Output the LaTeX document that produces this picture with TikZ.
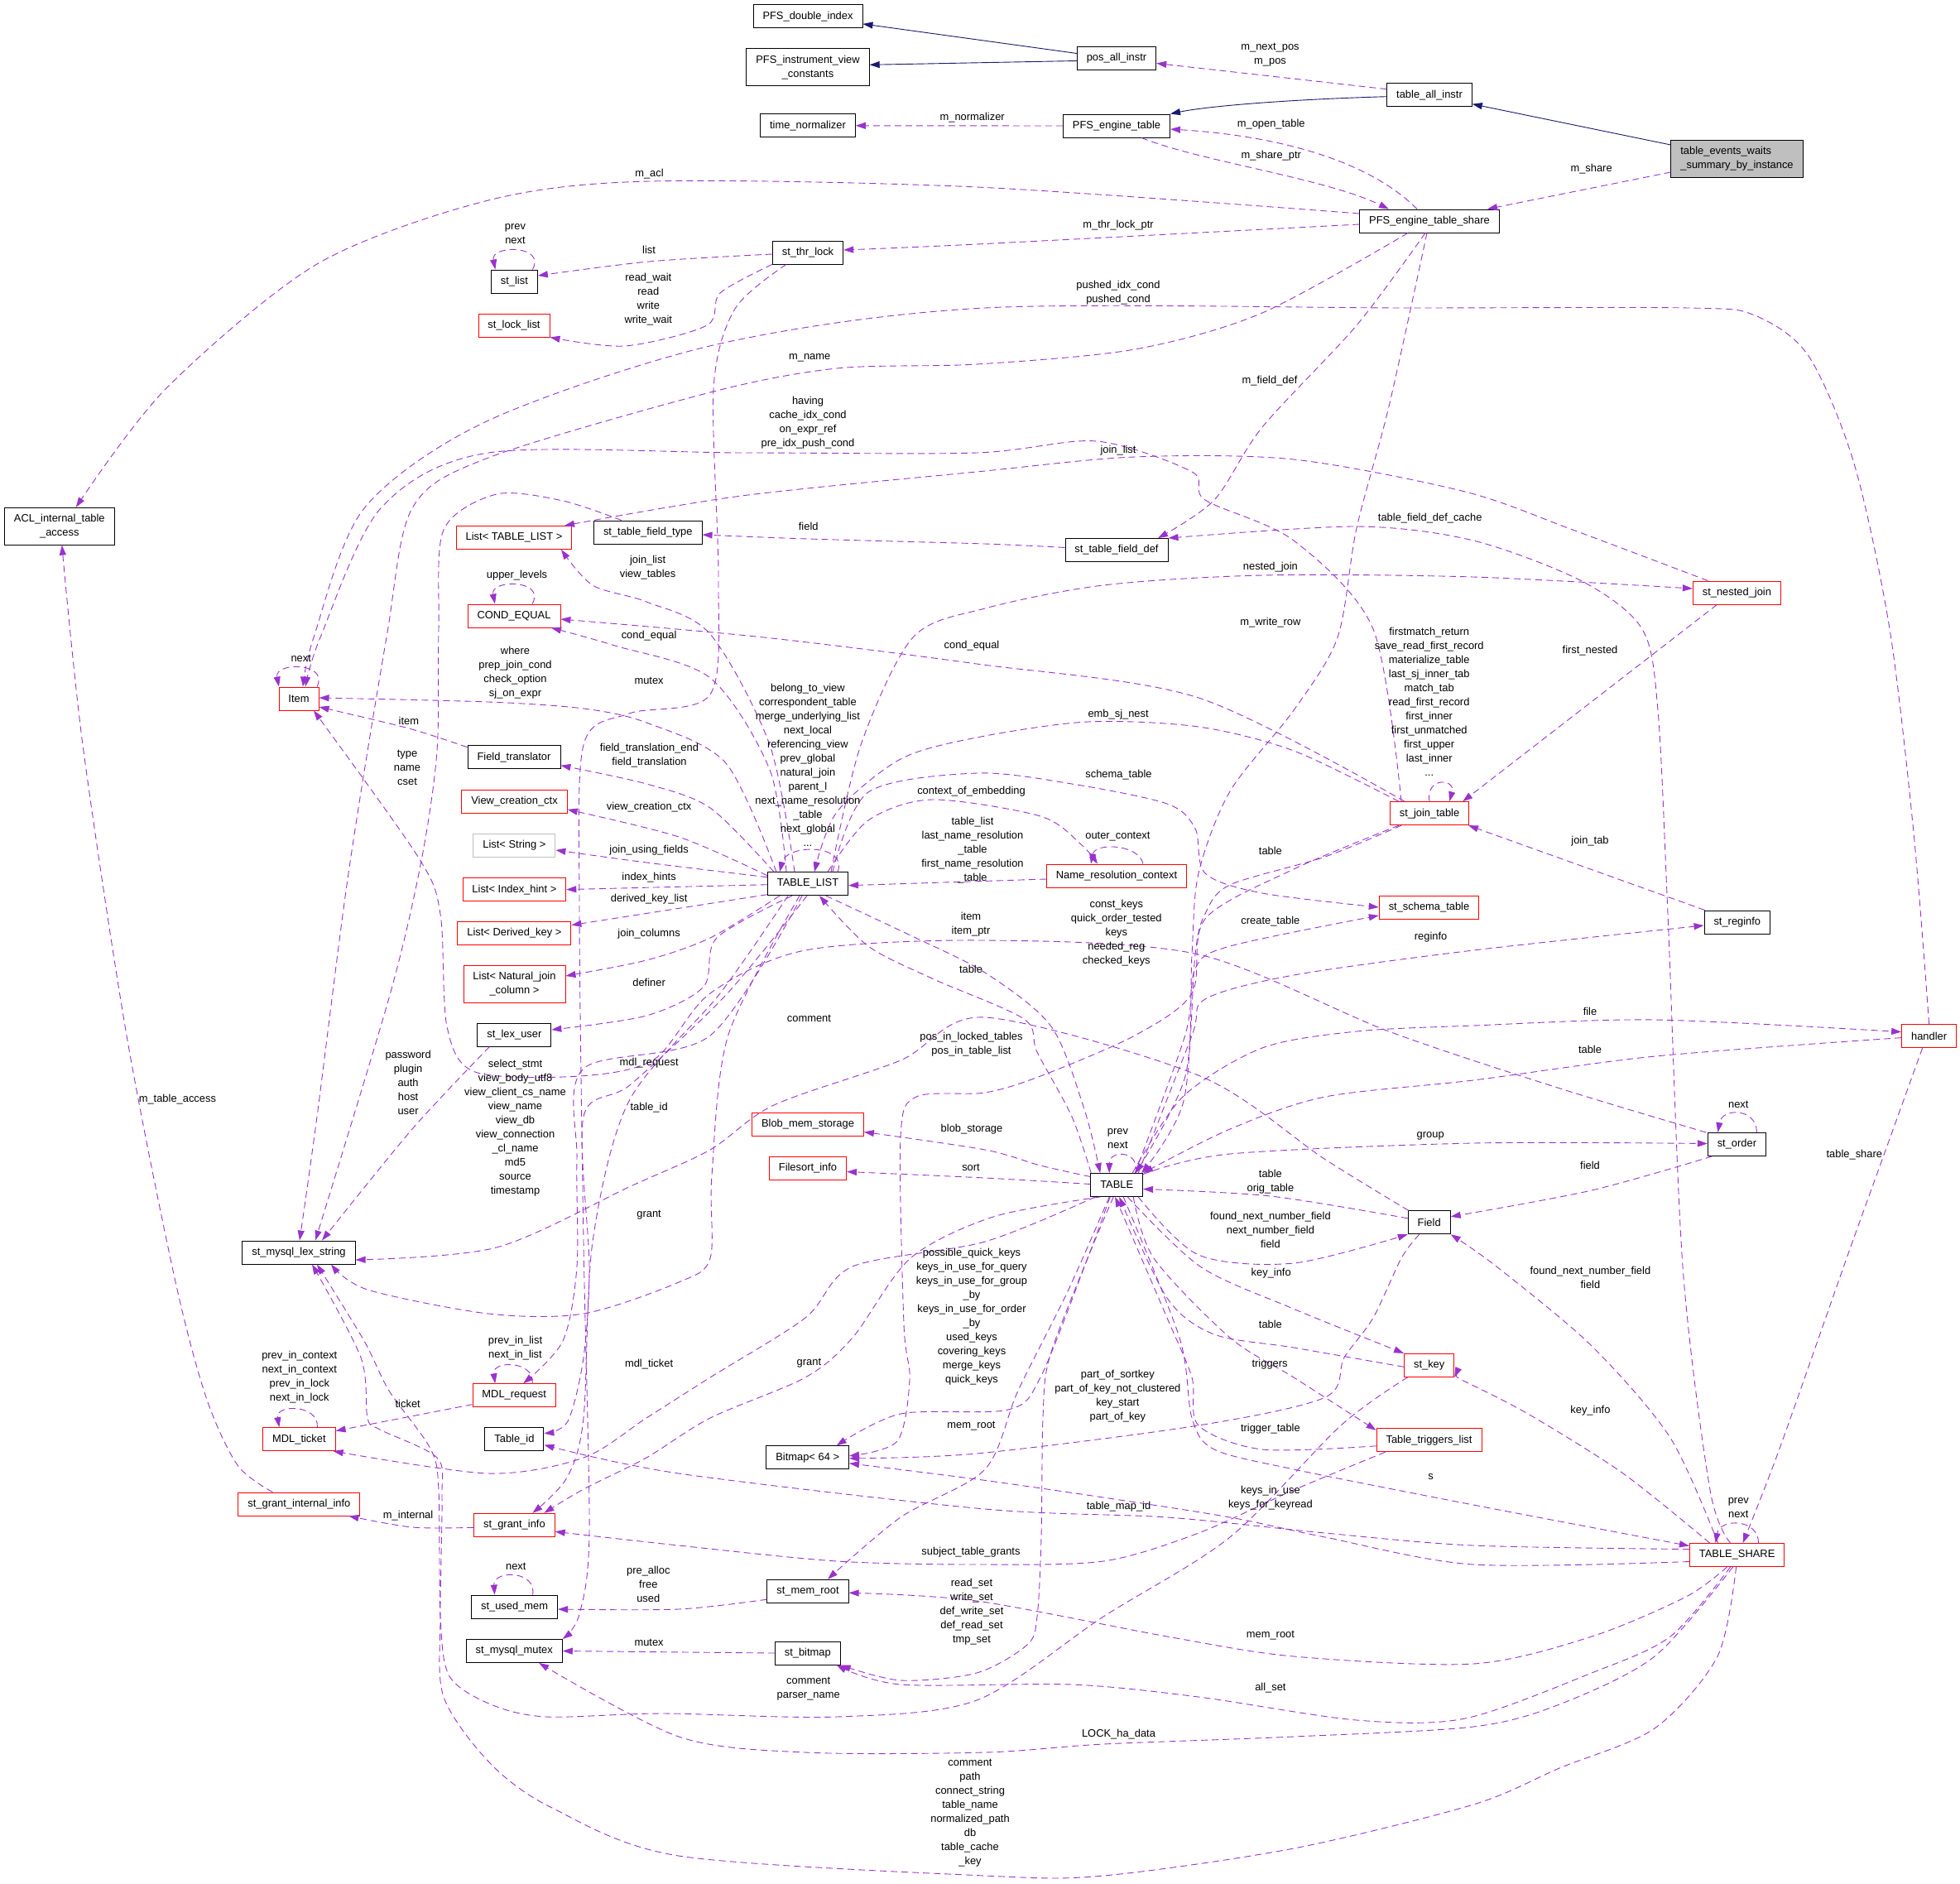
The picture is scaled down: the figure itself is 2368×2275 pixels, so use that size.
\documentclass[tikz,border=0pt]{standalone}
\usepackage{fontspec}
\setmainfont{Liberation Sans}
\usetikzlibrary{arrows.meta, calc}
\definecolor{usecol}{HTML}{9A32CD}
\definecolor{inhcol}{HTML}{191970}
\definecolor{grayb}{HTML}{BFBFBF}
\newcommand\dxfont{\fontsize{12.9}{17}\selectfont}
\tikzset{
  cls/.style={draw=black, fill=white, line width=0.9pt, minimum height=28pt,
    inner xsep=11.5pt, inner ysep=8pt, align=center, font=\dxfont},
  trunc/.style={cls, draw=red},
  extcls/.style={cls, draw=grayb},
  mainnode/.style={cls, fill=grayb, align=left},
  elab/.style={align=center, inner sep=0pt, font=\dxfont},
  usedge/.style={draw=usecol, line width=0.9pt, dash pattern=on 8pt off 5pt,
    -{Triangle[length=12pt,width=8pt]}},
  inhedge/.style={draw=inhcol, line width=0.9pt, -{Triangle[length=12pt,width=8pt]}},
}
\begin{document}
\begin{tikzpicture}[x=1pt, y=-1pt]
% Canvas
\fill[white] (0,0) rectangle (2368,2275);
\useasboundingbox (0,0) rectangle (2368,2275);

% Classes
\node[cls] (pfsdbl) at (976,19.9) {PFS\_double\_index};
\node[cls] (pfsiv) at (976,81.3) {PFS\_instrument\_view\\\_constants};
\node[cls] (timenorm) at (976,151.8) {time\_normalizer};
\node[cls] (posall) at (1349,70.5) {pos\_all\_instr};
\node[cls] (taball) at (1727,114.7) {table\_all\_instr};
\node[cls] (pfstab) at (1349,152) {PFS\_engine\_table};
\node[cls] (pfsshare) at (1727,267) {PFS\_engine\_table\_share};
\node[mainnode] (tews) at (2098.5,192) {table\_events\_waits\\\_summary\_by\_instance};
\node[cls] (stlist) at (621.4,340) {st\_list};
\node[trunc] (stlocklist) at (621,393) {st\_lock\_list};
\node[cls] (stthr) at (976,305) {st\_thr\_lock};
\node[cls] (acl) at (71.8,635.7) {ACL\_internal\_table\\\_access};
\node[trunc] (item) at (361,844) {Item};
\node[trunc] (listtl) at (621,649.4) {List< TABLE\_LIST >};
\node[cls] (sttft) at (782.8,643) {st\_table\_field\_type};
\node[trunc] (condeq) at (621,744) {COND\_EQUAL};
\node[cls] (sttfd) at (1349,664.5) {st\_table\_field\_def};
\node[trunc] (stnj) at (2098.4,716) {st\_nested\_join};
\node[cls] (ftrans) at (621,914.7) {Field\_translator};
\node[trunc] (vcctx) at (621.5,968) {View\_creation\_ctx};
\node[extcls] (liststr) at (621.4,1021) {List< String >};
\node[trunc] (listih) at (621.4,1074.6) {List< Index\_hint >};
\node[trunc] (listdk) at (621.4,1127.6) {List< Derived\_key >};
\node[trunc] (listnjc) at (621.5,1189) {List< Natural\_join\\\_column >};
\node[cls] (stlex) at (621.4,1250) {st\_lex\_user};
\node[cls] (tlist) at (976,1067.7) {TABLE\_LIST};
\node[trunc] (blob) at (976,1358.5) {Blob\_mem\_storage};
\node[trunc] (fsort) at (976,1411.5) {Filesort\_info};
\node[cls] (lexstr) at (361,1513) {st\_mysql\_lex\_string};
\node[trunc] (nrc) at (1349,1058) {Name\_resolution\_context};
\node[trunc] (stjt) at (1727,982.7) {st\_join\_table};
\node[trunc] (stschema) at (1726.5,1096) {st\_schema\_table};
\node[cls] (streg) at (2098.8,1114) {st\_reginfo};
\node[trunc] (handler) at (2330.6,1251.6) {handler};
\node[cls] (storder) at (2098.4,1382.5) {st\_order};
\node[cls] (table) at (1349.2,1431.5) {TABLE};
\node[cls] (field) at (1726.7,1476.8) {Field};
\node[trunc] (mdlticket) at (361.4,1738.6) {MDL\_ticket};
\node[trunc] (stgii) at (361.4,1817) {st\_grant\_internal\_info};
\node[trunc] (mdlreq) at (621.2,1685.7) {MDL\_request};
\node[cls] (tableid) at (621.4,1738.6) {Table\_id};
\node[trunc] (stgrant) at (621.4,1842.3) {st\_grant\_info};
\node[cls] (stused) at (621.6,1941) {st\_used\_mem};
\node[cls] (stmutex) at (621.2,1994.5) {st\_mysql\_mutex};
\node[cls] (bitmap) at (975.7,1760.8) {Bitmap< 64 >};
\node[cls] (memroot) at (976,1922.2) {st\_mem\_root};
\node[cls] (stbitmap) at (975.8,1997) {st\_bitmap};
\node[trunc] (stkey) at (1726.7,1649.3) {st\_key};
\node[trunc] (ttl) at (1726.5,1739.8) {Table\_triggers\_list};
\node[trunc] (tshare) at (2098.6,1878.5) {TABLE\_SHARE};

% Inheritance
\draw[inhedge] ([yshift=6pt]posall.west) -- ([yshift=-9pt]pfsdbl.east);
\draw[inhedge] ([yshift=-3pt]posall.west) -- ([yshift=3pt]pfsiv.east);
\draw[inhedge] ([yshift=-2pt]taball.west) .. controls (1560,120) and (1460,128) .. (pfstab.north east);
\draw[inhedge] ([yshift=17pt]tews.west) -- ([yshift=-11pt]taball.east);

% Usage, top part
\draw[usedge] ([yshift=7pt]taball.west) -- ([yshift=-6pt]posall.east);
\draw[usedge] (pfstab.west) -- (timenorm.east);
\draw[usedge] ([xshift=-15pt]pfsshare.north) .. controls (1660,200) and (1560,165) .. ([yshift=-4pt]pfstab.east);
\draw[usedge] ([xshift=30pt]pfstab.south) .. controls (1450,195) and (1600,215) .. ([xshift=-49pt]pfsshare.north);
\draw[usedge] ([yshift=-16pt]tews.west) -- ([xshift=70pt]pfsshare.north);
\draw[usedge] plot[smooth] coordinates {([yshift=9pt]pfsshare.west) (1180,226) (784,219) (590,242) (383,319) (200,470) ([xshift=20pt]acl.north)};
\draw[usedge] plot[smooth] coordinates {([yshift=-4pt]pfsshare.west) (1180,295) ([yshift=3pt]stthr.east)};
\draw[usedge] plot[smooth] coordinates {([yshift=-2pt]stthr.west) (784,316) ([yshift=7pt]stlist.east)};
\draw[usedge] ([xshift=22pt]stlist.north) .. controls +(17,-30) and +(-6,-30) .. ([xshift=-23pt]stlist.north);
\draw[usedge] plot[smooth] coordinates {(stthr.south west) (870,354) (854,393) (755,418) (stlocklist.south east)};
\draw[usedge] plot[smooth] coordinates {(handler.north) (2312,1006) (2283,760) (2240,560) (2185,430) (2120,381) (2040,372) (1700,372) (1190,372) (866,416) (590,508) (440,614) (379,770) ([xshift=5pt]item.north)};
\draw[usedge] plot[smooth] coordinates {([xshift=-34pt]stjt.north) (1659,760) (1563,653) (1456,604) (1440,570) (1325,533) (1180,547) (900,547) (590,547) (460,614) (387,770) ([xshift=8pt]item.north)};
\draw[usedge] plot[smooth] coordinates {([xshift=-26pt]pfsshare.south) (1525,378) (1371,422) (1180,440) (1011,445) (858,474) (590,553) (498,614) (467,770) (421,1055) (383,1349) ([xshift=1pt]lexstr.north)};
\draw[usedge] plot[smooth] coordinates {([xshift=-32pt]sttft.north) (680,605) (600,597) (536,640) (530,760) (528,907) (509,1040) (471,1202) ([xshift=20pt]lexstr.north)};
\draw[usedge] plot[smooth] coordinates {([xshift=-35pt]stnj.north) (1900,640) (1770,594) (1563,555) (1371,552) (1180,570) (896,599) ([xshift=61pt]listtl.north)};
\draw[usedge] plot[smooth] coordinates {([xshift=-5pt]pfsshare.south) (1639,393) (1525,516) (1467,604) ([xshift=50pt]sttfd.north)};
\draw[usedge] plot[smooth] coordinates {([xshift=-3pt]pfsshare.south) (1678,491) (1639,638) (1616,770) (1563,858) (1486,956) (1448,1055) (1440,1153) (1432,1300) ([xshift=23pt]table.north)};
\draw[usedge] plot[smooth] coordinates {([xshift=-8pt]tshare.north) (2066,1800) (2033,1530) (2015,1104) (2003,858) (1984,760) (1911,702) (1780,653) (1639,636) (sttfd.north east)};
\draw[usedge] plot[smooth] coordinates {([yshift=3pt]sttfd.west) (1190,657) (976,651) ([yshift=-3pt]sttft.east)};
\draw[usedge] plot[smooth] coordinates {([xshift=-26pt]stthr.south) (888,373) (862,470) (868,700) (858,839) (760,862) (705,900) (700,1100) (705,1500) (712,1850) (700,1950) (stmutex.north east)};

% Usage, around TABLE_LIST
\draw[usedge] plot[smooth] coordinates {([xshift=-16pt]tlist.north) (930,900) (858,766) (781,727) (716,707) ([xshift=57pt]listtl.south)};
\draw[usedge] plot[smooth] coordinates {([xshift=-26pt]tlist.north) (930,930) (858,819) (743,780) ([xshift=45pt]condeq.south)};
\draw[usedge] plot[smooth] coordinates {([xshift=-30pt]stjt.north) (1448,843) (1180,802) (923,770) ([yshift=-4pt]condeq.east)};
\draw[usedge] ([xshift=22pt]condeq.north) .. controls +(17,-30) and +(-6,-30) .. ([xshift=-23pt]condeq.north);
\draw[usedge] ([xshift=22pt]item.north) .. controls +(15,-30) and +(-6,-30) .. ([xshift=-24pt]item.north);
\draw[usedge] plot[smooth] coordinates {([xshift=-38pt]tlist.north) (877,922) (781,873) (705,856) (590,848) ([yshift=1pt]item.east)};
\draw[usedge] plot[smooth] coordinates {([yshift=12pt]ftrans.west) (494,880) ([yshift=-10pt]item.east)};
\draw[usedge] plot[smooth] coordinates {([xshift=-41pt]tlist.north) (858,976) (781,947) ([yshift=-10pt]ftrans.east)};
\draw[usedge] plot[smooth] coordinates {([yshift=10pt]tlist.west) (820,1011) ([yshift=-10pt]vcctx.east)};
\draw[usedge] plot[smooth] coordinates {([yshift=8pt]tlist.west) (781,1042) ([yshift=-6pt]liststr.east)};
\draw[usedge] ([yshift=-1pt]tlist.west) -- (listih.east);
\draw[usedge] ([yshift=-13pt]tlist.west) -- ([yshift=10pt]listdk.east);
\draw[usedge] plot[smooth] coordinates {([xshift=-34pt]tlist.south) (858,1133) (781,1160) ([yshift=10pt]listnjc.east)};
\draw[usedge] plot[smooth] coordinates {([xshift=-19pt]tlist.south) (866,1133) (850,1192) (781,1227) ([yshift=6pt]stlex.east)};
\draw[usedge] plot[smooth] coordinates {([xshift=-30pt]stlex.south) (498,1364) ([xshift=28pt]lexstr.north)};
\draw[usedge] plot[smooth] coordinates {([xshift=-10pt]tlist.south) (880,1250) (860,1420) (858,1520) (820,1549) (705,1587) (590,1587) (444,1558) ([xshift=39pt]lexstr.south)};
\draw[usedge] plot[smooth] coordinates {([xshift=-25pt]field.north) (1600,1400) (1450,1300) (1190,1229) (1088,1281) (935,1335) (858,1389) (762,1433) (600,1507) ([yshift=-9pt]lexstr.east)};
\draw[usedge] plot[smooth] coordinates {([xshift=-7pt]tlist.south) (858,1251) (705,1291) (697,1400) (697,1530) (680,1620) ([xshift=11pt]mdlreq.north)};
\draw[usedge] plot[smooth] coordinates {([xshift=-1pt]tlist.south) (877,1202) (762,1310) (705,1349) (712,1530) (705,1640) (686,1717) ([yshift=7pt]tableid.east)};
\draw[usedge] plot[smooth] coordinates {([xshift=-24pt]tlist.south) (870,1200) (760,1330) (716,1500) (705,1713) (685,1785) ([xshift=22pt]stgrant.north)};
\draw[usedge] ([xshift=36pt]tlist.north) .. controls +(13,-34) and +(8,-34) .. ([xshift=-34pt]tlist.north);
\draw[usedge] ([yshift=-4pt]nrc.west) -- ([yshift=-2pt]tlist.east);
\draw[usedge] ([xshift=32pt]nrc.north) .. controls +(-5,-24) and +(5,-26) .. ([xshift=-31pt]nrc.north);
\draw[usedge] plot[smooth] coordinates {([xshift=24pt]tlist.north) (1049,991) (1126,966) (1257,986) (1306,1020) ([xshift=-23pt]nrc.north)};
\draw[usedge] plot[smooth] coordinates {([xshift=30pt]tlist.north) (1049,957) (1180,934) (1295,947) (1410,971) (1444,1001) (1456,1055) (1525,1079) (stschema.west)};
\draw[usedge] plot[smooth] coordinates {([xshift=-37pt]stjt.north) (1563,907) (1448,878) (1314,872) (1180,891) (1088,917) (1011,981) ([xshift=8pt]tlist.north)};
\draw[usedge] plot[smooth] coordinates {([xshift=28pt]tlist.north) (1040,900) (1103,770) (1190,735) (1333,707) (1525,695) (1780,697) ([yshift=5pt]stnj.west)};

% Usage, st_join_table and TABLE
\draw[usedge] (stjt.north) .. controls +(-5,-30) and +(8,-28) .. ([xshift=24pt]stjt.north);
\draw[usedge] ([xshift=-24pt]stnj.south) -- ([xshift=-8pt]stjt.north east);
\draw[usedge] plot[smooth] coordinates {([xshift=-34pt]stjt.south) (1601,1035) (1486,1069) (1456,1104) (1444,1153) (1430,1330) ([xshift=30pt]table.north)};
\draw[usedge] ([xshift=-39pt]streg.north) -- ([xshift=47pt]stjt.south);
\draw[usedge] plot[smooth] coordinates {([xshift=26pt]table.north) (1440,1251) (1456,1207) (1563,1178) (1780,1148) ([yshift=-4pt]streg.west)};
\draw[usedge] plot[smooth] coordinates {([xshift=22pt]table.north) (1432,1250) (1444,1170) (1486,1143) ([yshift=-10pt]stschema.west)};
\draw[usedge] plot[smooth] coordinates {([xshift=-37pt]stjt.south) (1563,1050) (1456,1110) (1440,1200) (1371,1251) (1257,1300) (1190,1320) (1107,1325) (1088,1374) (1092,1600) (1099,1667) (1084,1741) ([yshift=2pt]bitmap.east)};
\draw[usedge] plot[smooth] coordinates {([xshift=-31pt]table.north) (1295,1349) (1253,1271) (1237,1231) (1126,1182) (1049,1143) ([xshift=14pt]tlist.south)};
\draw[usedge] plot[smooth] coordinates {([xshift=22pt]tlist.south) (1100,1130) (1190,1175) (1270,1240) (1310,1340) ([xshift=-20pt]table.north)};
\draw[usedge] plot[smooth] coordinates {([yshift=10pt]table.west) (1257,1408) (1190,1389) ([yshift=-9pt]blob.east)};
\draw[usedge] plot[smooth] coordinates {([yshift=1pt]table.west) (1190,1423) ([yshift=-4pt]fsort.east)};
\draw[usedge] ([xshift=23pt]table.north) .. controls +(5,-28) and +(0,-28) .. ([xshift=-9pt]table.north);
\draw[usedge] plot[smooth] coordinates {([yshift=-2pt]handler.west) (2000,1276) (1780,1305) (1601,1325) (1486,1364) (table.north east)};
\draw[usedge] plot[smooth] coordinates {([xshift=19pt]table.north) (1429,1325) (1525,1266) (1639,1246) (1780,1239) (2000,1232) ([yshift=5pt]handler.west)};
\draw[usedge] ([xshift=24pt]storder.north) .. controls +(0,-30) and +(5,-30) .. ([xshift=-23pt]storder.north);
\draw[usedge] plot[smooth] coordinates {([yshift=13pt]table.east) (1486,1394) (1780,1381) ([yshift=1pt]storder.west)};
\draw[usedge] plot[smooth] coordinates {([xshift=-30pt]storder.south) (1923,1438) ([yshift=7pt]field.east)};
\draw[usedge] plot[smooth] coordinates {([yshift=5pt]field.west) (1535,1445) ([yshift=-5pt]table.east)};
\draw[usedge] plot[smooth] coordinates {([xshift=26pt]table.south) (1448,1516) (1563,1526) (field.south west)};
\draw[usedge] plot[smooth] coordinates {([xshift=-37pt]storder.north) (1885,1315) (1678,1246) (1448,1153) (1190,1136) (973,1148) (858,1200) (790,1280) (700,1300) (574,1295) (540,1240) (532,1104) (505,1035) ([xshift=18pt]item.south)};

% Usage, TABLE_SHARE and the bottom part
\draw[usedge] plot[smooth] coordinates {([xshift=-8pt]handler.south) (2275,1398) (2231,1520) (2150,1750) ([xshift=7pt]tshare.north)};
\draw[usedge] ([xshift=26pt]tshare.north) .. controls +(0,-30) and +(5,-30) .. ([xshift=-26pt]tshare.north);
\draw[usedge] plot[smooth] coordinates {([xshift=-23pt]tshare.north) (2018,1737) (1923,1626) (1808,1530) (field.south east)};
\draw[usedge] plot[smooth] coordinates {([xshift=-33pt]tshare.north) (1961,1780) (1846,1708) (1770,1669) (stkey.south east)};
\draw[usedge] plot[smooth] coordinates {([xshift=13pt]table.south) (1450,1530) (1560,1580) (stkey.north west)};
\draw[usedge] plot[smooth] coordinates {([yshift=-2pt]stkey.west) (1563,1628) (1467,1612) (1410,1568) ([xshift=3pt]table.south)};
\draw[usedge] plot[smooth] coordinates {([xshift=20pt]table.south) (1394,1520) (1486,1616) (1563,1664) ([yshift=12pt]ttl.west)};
\draw[usedge] plot[smooth] coordinates {([yshift=-7pt]ttl.west) (1525,1751) (1448,1722) (1440,1664) (1410,1592) ([xshift=-2pt]table.south)};
\draw[usedge] plot[smooth] coordinates {([xshift=8pt]table.south) (1425,1616) (1440,1713) (1467,1751) (1563,1775) (1780,1818) ([yshift=11pt]tshare.west)};
\draw[usedge] plot[smooth] coordinates {([xshift=-9pt]table.south) (1290,1560) (1230,1680) (1190,1775) (1088,1833) ([xshift=24pt]memroot.north)};
\draw[usedge] plot[smooth] coordinates {([xshift=-12pt]tshare.south) (2037,1929) (1923,1977) (1780,2010) (1563,2001) (1410,1977) (1180,1934) ([yshift=-2pt]memroot.east)};
\draw[usedge] plot[smooth] coordinates {([yshift=-10pt]memroot.west) (820,1944) ([yshift=-3pt]stused.east)};
\draw[usedge] ([xshift=22pt]stused.north) .. controls +(5,-30) and +(-2,-30) .. ([xshift=-24pt]stused.north);
\draw[usedge] (stbitmap.west) -- (stmutex.east);
\draw[usedge] plot[smooth] coordinates {([xshift=-8pt]table.south) (1314,1520) (1257,1664) (1218,1703) (1088,1708) ([xshift=35pt]bitmap.north)};
\draw[usedge] plot[smooth] coordinates {([xshift=-12pt]field.south) (1693,1520) (1659,1592) (1624,1640) (1601,1688) (1448,1722) (1180,1756) ([yshift=-1pt]bitmap.east)};
\draw[usedge] plot[smooth] coordinates {([yshift=-8pt]tshare.west) (1780,1890) (1601,1857) (1486,1833) (1333,1809) (1180,1787) ([yshift=-7pt]bitmap.east)};
\draw[usedge] plot[smooth] coordinates {([yshift=7pt]tshare.west) (1780,1867) (1601,1852) (1410,1833) (1190,1823) (820,1780) ([yshift=-7pt]tableid.east)};
\draw[usedge] plot[smooth] coordinates {([xshift=-53pt]ttl.south) (1563,1800) (1448,1852) (1333,1886) (1180,1890) (1011,1886) (820,1867) ([yshift=-8pt]stgrant.east)};
\draw[usedge] plot[smooth] coordinates {([xshift=-8pt]tshare.south) (2018,1977) (1923,2021) (1770,2076) (1639,2078) (1448,2050) (1295,2035) (1088,2035) ([xshift=-5pt]stbitmap.south east)};
\draw[usedge] plot[smooth] coordinates {([xshift=-4pt]table.south) (1314,1520) (1268,1640) (1260,1713) (1258,1857) (1253,1953) (1241,1987) (1180,2021) (1088,2030) (stbitmap.south east)};
\draw[usedge] plot[smooth] coordinates {([xshift=-5pt]tshare.south) (1999,2001) (1884,2059) (1780,2086) (1563,2098) (1333,2107) (1190,2117) (973,2117) (820,2098) ([xshift=30pt]stmutex.south)};
\draw[usedge] plot[smooth] coordinates {([xshift=-1pt]tshare.south) (2075,2001) (1999,2088) (1884,2136) (1780,2180) (1563,2233) (1333,2266) (1190,2266) (820,2242) (667,2184) (593,2131) (536,2050) (532,1953) (534,1809) (528,1761) (459,1727) (444,1713) (436,1640) ([xshift=16pt]lexstr.south)};
\draw[usedge] plot[smooth] coordinates {([xshift=-26pt]stkey.south) (1620,1722) (1486,1857) (1333,1953) (1180,2054) (1011,2074) (800,2070) (660,2074) (593,2059) (543,2025) (532,1953) (530,1800) (520,1750) (470,1680) (440,1620) ([xshift=22pt]lexstr.south)};
\draw[usedge] plot[smooth] coordinates {([xshift=-32pt]stgii.north) (287,1770) (249,1688) (211,1544) (153,1251) (100,900) ([xshift=3pt]acl.south)};
\draw[usedge] plot[smooth] coordinates {([yshift=-3pt]stgrant.west) (498,1845) ([xshift=60pt]stgii.south)};
\draw[usedge] ([yshift=-11pt]mdlreq.west) -- ([yshift=10pt]mdlticket.east);
\draw[usedge] ([xshift=22pt]mdlticket.north) .. controls +(2,-28) and +(-5,-28) .. ([xshift=-24pt]mdlticket.north);
\draw[usedge] ([xshift=22pt]mdlreq.north) .. controls +(3,-28) and +(-4,-28) .. ([xshift=-23pt]mdlreq.north);
\draw[usedge] plot[smooth] coordinates {([xshift=-26pt]table.south) (1190,1500) (1030,1530) (973,1592) (858,1664) (781,1713) (705,1761) (590,1780) ([xshift=-3pt]mdlticket.south east)};
\draw[usedge] plot[smooth] coordinates {([xshift=-20pt]table.south) (1200,1470) (1100,1520) (1030,1616) (973,1664) (858,1713) (781,1761) (705,1799) ([xshift=36pt]stgrant.north)};

% Edge labels
\node[elab] (lnextpos) at (1534.5,65.8) {m\_next\_pos\\m\_pos};
\node[elab] (lnormalizer) at (1174.7,142.4) {m\_normalizer};
\node[elab] (lopentable) at (1535.7,150.3) {m\_open\_table};
\node[elab] (lshareptr) at (1535.7,188.6) {m\_share\_ptr};
\node[elab] (lshare) at (1922.6,204.3) {m\_share};
\node[elab] (lacl) at (784.5,210.2) {m\_acl};
\node[elab] (lthrlock) at (1351.1,272.6) {m\_thr\_lock\_ptr};
\node[elab] (llist) at (784.1,302) {list};
\node[elab] (lstlistloop) at (622.5,283) {prev\\next};
\node[elab] (lwait) at (783.3,361.5) {read\_wait\\read\\write\\write\_wait};
\node[elab] (lpushed) at (1351,353.4) {pushed\_idx\_cond\\pushed\_cond};
\node[elab] (lmname) at (978.2,432.7) {m\_name};
\node[elab] (lfielddef) at (1534,459.7) {m\_field\_def};
\node[elab] (lhaving) at (976,510.5) {having\\cache\_idx\_cond\\on\_expr\_ref\\pre\_idx\_push\_cond};
\node[elab] (ljoinlist) at (1351,544.2) {join\_list};
\node[elab] (lfield) at (976.7,636) {field};
\node[elab] (lfdcache) at (1727.7,626.2) {table\_field\_def\_cache};
\node[elab] (lupper) at (624.5,695.5) {upper\_levels};
\node[elab] (lviewtables) at (782.6,685.4) {join\_list\\view\_tables};
\node[elab] (lnestedjoin) at (1534.9,684.7) {nested\_join};
\node[elab] (lwriterow) at (1534.9,752.5) {m\_write\_row};
\node[elab] (ljtloop) at (1726.7,847.4) {firstmatch\_return\\save\_read\_first\_record\\materialize\_table\\last\_sj\_inner\_tab\\match\_tab\\read\_first\_record\\first\_inner\\first\_unmatched\\first\_upper\\last\_inner\\...};
\node[elab] (lfirstnested) at (1921,786) {first\_nested};
\node[elab] (lcondeqa) at (784.1,768.4) {cond\_equal};
\node[elab] (lcondeqb) at (1174,780.6) {cond\_equal};
\node[elab] (lwhere) at (622.5,812.3) {where\\prep\_join\_cond\\check\_option\\sj\_on\_expr};
\node[elab] (lmutexa) at (784.1,822.4) {mutex};
\node[elab] (litemloop) at (363.7,795.4) {next};
\node[elab] (litem) at (493.9,870.5) {item};
\node[elab] (ltype) at (492,927.8) {type\\name\\cset};
\node[elab] (ltlloop) at (975.9,924.5) {belong\_to\_view\\correspondent\_table\\merge\_underlying\_list\\next\_local\\referencing\_view\\prev\_global\\natural\_join\\parent\_l\\next\_name\_resolution\\\_table\\next\_global\\...};
\node[elab] (lembsj) at (1351.1,862.7) {emb\_sj\_nest};
\node[elab] (lschema) at (1351.5,936.3) {schema\_table};
\node[elab] (lctxemb) at (1173.5,956.5) {context\_of\_embedding};
\node[elab] (lftrans) at (784.5,913) {field\_translation\_end\\field\_translation};
\node[elab] (lvcctx) at (784.1,974.6) {view\_creation\_ctx};
\node[elab] (louter) at (1350.4,1010.5) {outer\_context};
\node[elab] (ltablelist) at (1175,1027.2) {table\_list\\last\_name\_resolution\\\_table\\first\_name\_resolution\\\_table};
\node[elab] (ljttable) at (1534.9,1028.2) {table};
\node[elab] (ljointab) at (1921,1016.4) {join\_tab};
\node[elab] (lusing) at (784.1,1026.7) {join\_using\_fields};
\node[elab] (lhints) at (784.1,1060.1) {index\_hints};
\node[elab] (lderived) at (784.1,1086.1) {derived\_key\_list};
\node[elab] (ljoincols) at (784.1,1128.4) {join\_columns};
\node[elab] (ldefiner) at (784.1,1187.3) {definer};
\node[elab] (litemptr) at (1173,1116.4) {item\\item\_ptr};
\node[elab] (ltltable) at (1173,1170.6) {table};
\node[elab] (lconstkeys) at (1348.8,1127.6) {const\_keys\\quick\_order\_tested\\keys\\needed\_reg\\checked\_keys};
\node[elab] (lcreate) at (1534.9,1112.7) {create\_table};
\node[elab] (lreginfo) at (1728.6,1132.3) {reginfo};
\node[elab] (lfile) at (1921,1222.2) {file};
\node[elab] (lhtable) at (1921,1268.3) {table};
\node[elab] (lcomment) at (977.4,1230.5) {comment};
\node[elab] (lposin) at (1173.5,1261.7) {pos\_in\_locked\_tables\\pos\_in\_table\_list};
\node[elab] (lpassword) at (493.1,1307.7) {password\\plugin\\auth\\host\\user};
\node[elab] (lselect) at (622.5,1362.6) {select\_stmt\\view\_body\_utf8\\view\_client\_cs\_name\\view\_name\\view\_db\\view\_connection\\\_cl\_name\\md5\\source\\timestamp};
\node[elab] (lmdlreq) at (784.1,1284.6) {mdl\_request};
\node[elab] (ltableid) at (784.1,1338.1) {table\_id};
\node[elab] (lblob) at (1174,1364.6) {blob\_storage};
\node[elab] (lsort) at (1173,1410.8) {sort};
\node[elab] (ltableloop) at (1350.4,1375.4) {prev\\next};
\node[elab] (lgroup) at (1728.2,1372) {group};
\node[elab] (lorderloop) at (2100.3,1334.7) {next};
\node[elab] (lorderfield) at (1921,1408.3) {field};
\node[elab] (lorigtable) at (1534.9,1427.2) {table\\orig\_table};
\node[elab] (lnextnum) at (1534.9,1486) {found\_next\_number\_field\\next\_number\_field\\field};
\node[elab] (lgranta) at (784.1,1467.8) {grant};
\node[elab] (ltshare) at (2240.3,1394.6) {table\_share};
\node[elab] (lquick) at (1174,1590.7) {possible\_quick\_keys\\keys\_in\_use\_for\_query\\keys\_in\_use\_for\_group\\\_by\\keys\_in\_use\_for\_order\\\_by\\used\_keys\\covering\_keys\\merge\_keys\\quick\_keys};
\node[elab] (lsharefield) at (1921.4,1542.9) {found\_next\_number\_field\\field};
\node[elab] (lkeyinfoa) at (1535.7,1538.3) {key\_info};
\node[elab] (lreqloop) at (622.5,1628.1) {prev\_in\_list\\next\_in\_list};
\node[elab] (lmdlticket) at (784.1,1648) {mdl\_ticket};
\node[elab] (lgrantb) at (977.4,1646.6) {grant};
\node[elab] (lkeytable) at (1534.9,1599.4) {table};
\node[elab] (ltriggers) at (1534.1,1648.6) {triggers};
\node[elab] (lpartkey) at (1350.4,1686.7) {part\_of\_sortkey\\part\_of\_key\_not\_clustered\\key\_start\\part\_of\_key};
\node[elab] (lkeyinfob) at (1921.4,1704.4) {key\_info};
\node[elab] (lticketloop) at (361.8,1664) {prev\_in\_context\\next\_in\_context\\prev\_in\_lock\\next\_in\_lock};
\node[elab] (lticket) at (492.7,1696.2) {ticket};
\node[elab] (lmemroota) at (1173.5,1722.7) {mem\_root};
\node[elab] (ltrigtable) at (1534.9,1726.5) {trigger\_table};
\node[elab] (ls) at (1728.6,1783.8) {s};
\node[elab] (lkeysinuse) at (1534.9,1809.6) {keys\_in\_use\\keys\_for\_keyread};
\node[elab] (lmapid) at (1351.5,1820.4) {table\_map\_id};
\node[elab] (linternal) at (493.1,1831.5) {m\_internal};
\node[elab] (lsubject) at (1173,1875.3) {subject\_table\_grants};
\node[elab] (lusedloop) at (623.3,1892.2) {next};
\node[elab] (lprealloc) at (783.3,1914) {pre\_alloc\\free\\used};
\node[elab] (lreadset) at (1174,1947.3) {read\_set\\write\_set\\def\_write\_set\\def\_read\_set\\tmp\_set};
\node[elab] (lmemrootb) at (1534.9,1975.5) {mem\_root};
\node[elab] (lmutexb) at (784.1,1984.6) {mutex};
\node[elab] (lparser) at (976.7,2040) {comment\\parser\_name};
\node[elab] (lallset) at (1534.9,2039) {all\_set};
\node[elab] (llockha) at (1351.5,2094.9) {LOCK\_ha\_data};
\node[elab] (lsharestr) at (1172,2189.7) {comment\\path\\connect\_string\\table\_name\\normalized\_path\\db\\table\_cache\\\_key};
\node[elab] (ltableaccess) at (214.4,1327.8) {m\_table\_access};
\node[elab] (lshareloop) at (2100.3,1821.6) {prev\\next};
\end{tikzpicture}
\end{document}
